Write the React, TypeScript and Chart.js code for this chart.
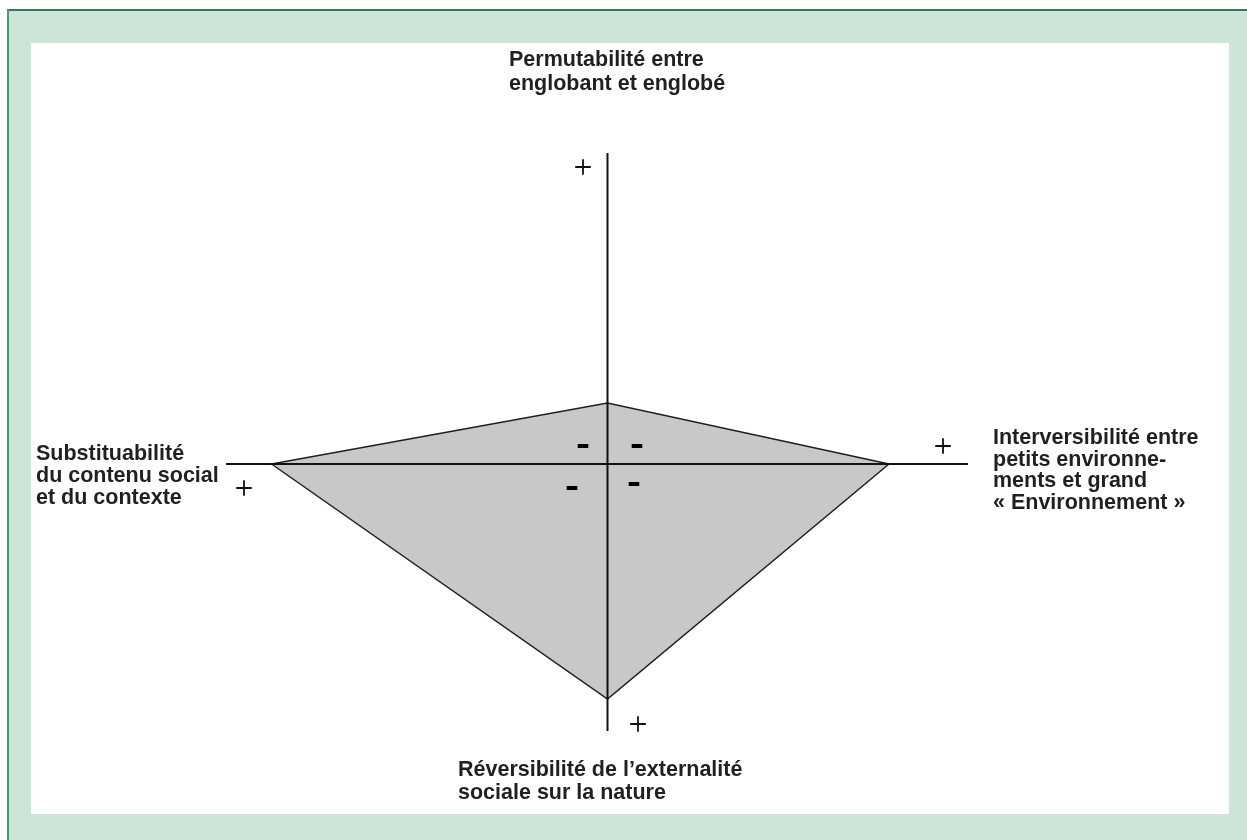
import React, { useEffect, useRef } from "react";
import { Chart, registerables } from "chart.js";

Chart.register(...registerables);

const W = 1247;
const H = 840;

// Pole labels, order: left, top, right, bottom
const poleLabels: string[][] = [
  ["Substituabilité", "du contenu social", "et du contexte"],
  ["Permutabilité entre", "englobant et englobé"],
  ["Interversibilité entre", "petits environne-", "ments et grand", "« Environnement »"],
  ["Réversibilité de l’externalité", "sociale sur la nature"],
];

// Profile (polygon) vertices, order: left, top, right, bottom
const profileX = [-3.36, 0, 2.815, 0];
const profileY = [0, 0.61, 0, -2.35];

// Axis extents
const axisXRange = [-3.815, 3.605];
const axisYRange = [-2.67, 3.11];

// "+" markers, order: left, top, right, bottom
const plusX = [-3.635, -0.245, 3.355, 0.305];
const plusY = [-0.24, 2.97, 0.18, -2.6];

// "-" markers
const minusX = [-0.355, -0.245, 0.295, 0.265];
const minusY = [-0.24, 0.18, 0.18, -0.2];

const FS = 21.5;
const TEXT_COLOR = "#231f20";

const labelPlacement = [
  { x: 36, baselines: [461, 483, 505] },
  { x: 509, baselines: [67, 91] },
  { x: 993, baselines: [445, 467, 488, 510] },
  { x: 458, baselines: [777, 800] },
];

const backgroundPlugin = {
  id: "pageBackground",
  beforeDraw(chart: any) {
    const ctx = chart.ctx;
    ctx.save();
    ctx.fillStyle = "#ffffff";
    ctx.fillRect(0, 0, W, H);
    ctx.fillStyle = "#cfe4d9";
    ctx.fillRect(9, 11, W - 9, H - 11);
    ctx.fillStyle = "#2e7d52";
    ctx.fillRect(7, 9, W - 7, 2);
    ctx.fillStyle = "#3d9f68";
    ctx.fillRect(7, 9, 2, H - 9);
    ctx.fillStyle = "#ffffff";
    ctx.fillRect(31, 43, 1229 - 31, 814 - 43);
    ctx.restore();
  },
};

function pts(xs: number[], ys: number[], idx: number[]) {
  return idx.map((i) => ({ x: xs[i], y: ys[i] }));
}

export default function App() {
  const ref = useRef<HTMLCanvasElement | null>(null);

  useEffect(() => {
    if (!ref.current) return;
    const lineColor = "#111111";
    const chart = new Chart(ref.current, {
      type: "scatter",
      data: {
        datasets: [
          {
            label: "plus",
            data: plusX.map((x, i) => ({ x, y: plusY[i] })),
            showLine: false,
            pointStyle: "cross",
            pointRadius: 7.8,
            pointBorderWidth: 1.8,
            pointBorderColor: "#111111",
            pointBackgroundColor: "#111111",
            clip: false,
            order: 0,
          } as any,
          {
            label: "minus",
            data: minusX.map((x, i) => ({ x, y: minusY[i] })),
            showLine: false,
            pointStyle: "line",
            pointRadius: 5.3,
            pointBorderWidth: 4,
            pointBorderColor: "#000000",
            pointBackgroundColor: "#000000",
            clip: false,
            order: 0,
          } as any,
          {
            label: "axisX",
            data: [
              { x: axisXRange[0], y: 0 },
              { x: axisXRange[1], y: 0 },
            ],
            showLine: true,
            borderColor: lineColor,
            borderWidth: 2,
            pointRadius: 0,
            fill: false,
            clip: false,
            order: 1,
          } as any,
          {
            label: "axisY",
            data: [
              { x: 0, y: axisYRange[0] },
              { x: 0, y: axisYRange[1] },
            ],
            showLine: true,
            borderColor: lineColor,
            borderWidth: 2,
            pointRadius: 0,
            fill: false,
            clip: false,
            order: 1,
          } as any,
          {
            label: "profileUpper",
            data: pts(profileX, profileY, [0, 1, 2]),
            showLine: true,
            borderColor: "#1e1e1e",
            borderWidth: 1.5,
            backgroundColor: "#c8c8c8",
            pointRadius: 0,
            fill: "origin",
            tension: 0,
            clip: false,
            order: 2,
          } as any,
          {
            label: "profileLower",
            data: pts(profileX, profileY, [0, 3, 2]),
            showLine: true,
            borderColor: "#1e1e1e",
            borderWidth: 1.5,
            backgroundColor: "#c8c8c8",
            pointRadius: 0,
            fill: "origin",
            tension: 0,
            clip: false,
            order: 2,
          } as any,
        ],
      },
      options: {
        responsive: false,
        animation: false,
        devicePixelRatio: 1,
        events: [],
        layout: {
          padding: { left: 226, right: W - 968, top: 153, bottom: H - 731 },
        },
        scales: {
          x: { type: "linear", display: false, min: axisXRange[0], max: axisXRange[1] },
          y: { type: "linear", display: false, min: axisYRange[0], max: axisYRange[1] },
        },
        plugins: {
          legend: { display: false },
          tooltip: { enabled: false },
          title: { display: false },
        },
      },
      plugins: [backgroundPlugin],
    } as any);
    return () => chart.destroy();
  }, []);

  return (
    <div
      style={{
        position: "fixed",
        left: 0,
        top: 0,
        width: W,
        height: H,
        overflow: "hidden",
      }}
    >
      <canvas
        ref={ref}
        width={W}
        height={H}
        style={{ position: "absolute", left: 0, top: 0, width: W, height: H, display: "block" }}
      />
      {poleLabels.map((lines, li) =>
        lines.map((text, i) => (
          <div
            key={`${li}-${i}`}
            style={{
              position: "absolute",
              left: labelPlacement[li].x,
              top: labelPlacement[li].baselines[i] - 0.8465 * FS,
              fontFamily: "'Liberation Sans', Arial, Helvetica, sans-serif",
              fontWeight: 700,
              fontSize: FS,
              lineHeight: 1,
              color: TEXT_COLOR,
              whiteSpace: "nowrap",
            }}
          >
            {text}
          </div>
        ))
      )}
    </div>
  );
}
